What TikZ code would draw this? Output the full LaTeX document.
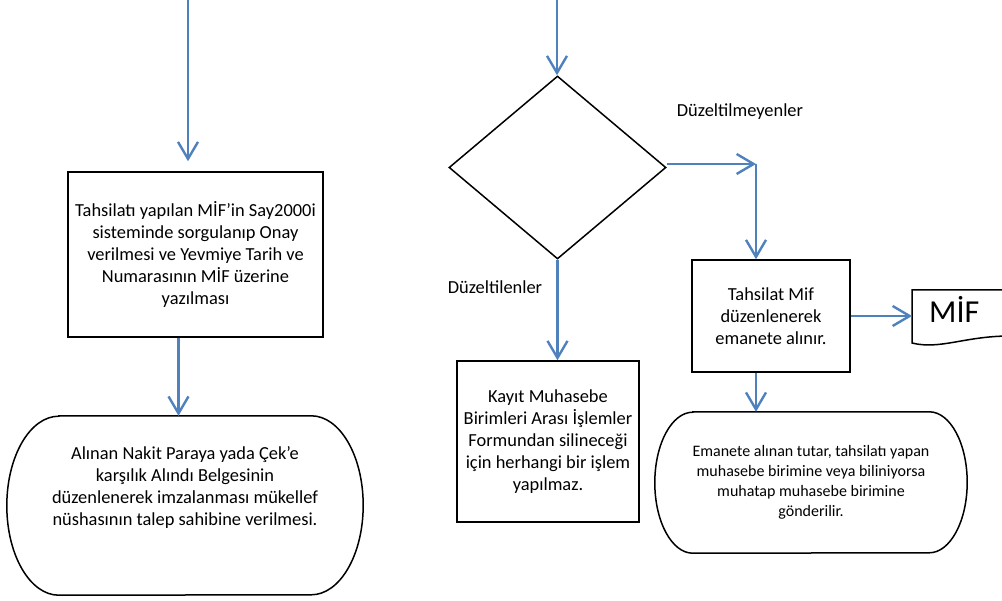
\documentclass[tikz,border=0pt]{standalone}
\usepackage{fontspec}
\setmainfont{Carlito}
\usepackage{tikz}
\usetikzlibrary{arrows.meta,positioning,shapes.geometric,calc}
\definecolor{pilblue}{RGB}{79,129,189}
\tikzset{
    %Define standard arrow tip
    >={Straight Barb[length=17pt,width=20pt]},
    %Define style for boxes
    box/.style={
           draw,
           line width=1.5pt,
           align=center,
           inner sep=0pt,
           font=\fontsize{18.4}{22.2}\selectfont},
    % Define arrow style
    pil/.style={
           ->,
           draw=pilblue,
           line width=2.4pt,}
}
% outline with elliptic ends round a node
\newcommand{\stadiumline}[3]{%
  \draw[line width=1.5pt] ([xshift=#2]#1.north west) -- ([xshift=-#2]#1.north east)
      arc[start angle=90, end angle=-90, x radius=#2, y radius=#3]
      -- ([xshift=#2]#1.south west)
      arc[start angle=270, end angle=90, x radius=#2, y radius=#3] -- cycle;}

\begin{document}
\begin{tikzpicture}[x=1pt, y=1pt]
	\tikzstyle{stadium} = [inner sep=0pt]
	\tikzstyle{lbl} = [font=\fontsize{18.4}{22}\selectfont]
	\useasboundingbox (0,0) rectangle (1002,-601);

	% Left column
	\coordinate (in-l) at (188,0);
	\node[box, minimum width=255pt, minimum height=165pt](onay) at (195.5,-254.5)
	     {Tahsilatı yapılan MİF’in Say2000i\\sisteminde sorgulanıp Onay\\verilmesi ve Yevmiye Tarih ve\\Numarasının MİF üzerine\\yazılması};
	\node[stadium, minimum width=356pt, minimum height=179pt](alindi) at (185,-505.5){};
	\node[box, draw=none] at ([yshift=18pt]alindi.center)
	     {Alınan Nakit Paraya yada Çek’e\\karşılık Alındı Belgesinin\\düzenlenerek imzalanması mükellef\\nüshasının talep sahibine verilmesi.};
	\stadiumline{alindi}{52pt}{89.5pt}

	\draw[pil, shorten >=10pt] (in-l) -- (in-l |- onay.north);
	\draw[pil] ([xshift=-17pt]onay.south) -- ([xshift=-17pt]onay.south |- alindi.north);

	% Decision
	\coordinate (in-r) at (557,0);
	\node[diamond, draw, line width=1.5pt, minimum width=217pt, minimum height=183pt, inner sep=0pt](karar) at (557.5,-167.5){};
	\coordinate (donus) at (756,-164);
	\node[lbl] at (740,-112){Düzeltilmeyenler};
	\node[lbl] at (495,-287){Düzeltilenler};

	\draw[pil] (in-r) -- (in-r |- karar.north);
	\draw[pil] (karar.east |- donus) -- (donus);

	% Right branch
	\node[box, minimum width=158pt, minimum height=112pt](emanet) at (771,-316)
	     {Tahsilat Mif\\düzenlenerek\\emanete alınır.};
	\node[anchor=base west, inner xsep=17pt, inner ysep=0pt, font=\fontsize{32}{38}\selectfont](mif) at (912,-323){MİF};
	\draw[line width=1.5pt] (1010,-290) -- (912,-290) -- (912,-343)
	     .. controls (940,-350) and (965,-336) .. (1010,-336);
	\node[stadium, minimum width=312pt, minimum height=141pt](tutar) at (811,-482.5){};
	\node[box, draw=none, font=\fontsize{16}{20}\selectfont] at (tutar.center)
	     {Emanete alınan tutar, tahsilatı yapan\\muhasebe birimine veya biliniyorsa\\muhatap muhasebe birimine\\gönderilir.};
	\stadiumline{tutar}{38pt}{70.5pt}

	\draw[pil] (donus) -- (donus |- emanet.north);
	\draw[pil] (emanet.east) -- (emanet.east -| mif.west);
	\draw[pil] (donus |- emanet.south) -- (donus |- tutar.north);

	% Lower branch
	\node[box, minimum width=182pt, minimum height=161pt](kayit) at (548,-441.5)
	     {Kayıt Muhasebe\\Birimleri Arası İşlemler\\Formundan silineceği\\için herhangi bir işlem\\yapılmaz.};
	\draw[pil] (karar.south) -- (karar.south |- kayit.north);

\end{tikzpicture}
\end{document}
